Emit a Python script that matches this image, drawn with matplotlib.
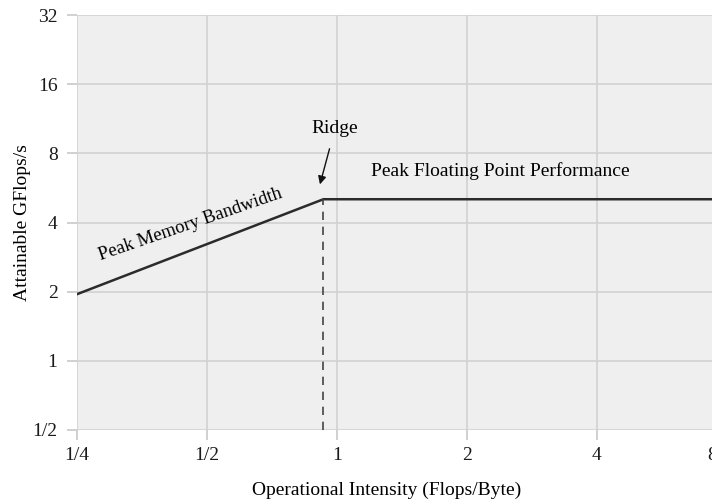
import matplotlib
matplotlib.use("Agg")
import matplotlib.pyplot as plt
import matplotlib.ticker as mticker
from matplotlib.transforms import ScaledTranslation

# roofline: bandwidth slope up to the ridge, then flat compute ceiling
intensity = [0.25, 0.93, 8.0]          # Flops/Byte
gflops    = [1.95, 5.05, 5.05]         # attainable GFlops/s
ridge_x, ridge_y = 0.93, 5.05

x_ticks = [0.25, 0.5, 1, 2, 4, 8]
x_labels = ["1/4", "1/2", "1", "2", "4", "8"]
y_ticks = [0.5, 1, 2, 4, 8, 16, 32]
y_labels = ["1/2", "1", "2", "4", "8", "16", "32"]

plt.rcParams["font.family"] = ["Liberation Serif", "DejaVu Serif"]

fig = plt.figure(figsize=(7.12, 5.03), dpi=100)
ax = fig.add_axes([77 / 712, 73 / 503, 650 / 712, 415 / 503])
ax.set_facecolor("#efefef")

ax.set_xscale("log", base=2)
ax.set_yscale("log", base=2)
ax.set_xlim(0.25, 8)
ax.set_ylim(0.5, 32)

ax.xaxis.set_major_locator(mticker.FixedLocator(x_ticks))
ax.xaxis.set_major_formatter(mticker.FixedFormatter(x_labels))
ax.yaxis.set_major_locator(mticker.FixedLocator(y_ticks))
ax.yaxis.set_major_formatter(mticker.FixedFormatter(y_labels))
ax.xaxis.set_minor_locator(mticker.NullLocator())
ax.yaxis.set_minor_locator(mticker.NullLocator())

ax.grid(True, color="#d2d2d2", lw=1.2)
ax.set_axisbelow(True)
for s in ax.spines.values():
    s.set_visible(False)
ax.tick_params(length=7, width=1.2, color="#c8c8c8", labelsize=14,
               labelcolor="#1a1a1a")
ax.tick_params(axis="x", pad=5)
ax.tick_params(axis="y", pad=7)

ax.plot(intensity, gflops, color="#2b2b2b", lw=1.8, solid_joinstyle="miter")
ax.plot([ridge_x, ridge_x], [0.5, ridge_y], color="#444444", lw=1.2,
        ls=(0, (5, 4)))

ax.annotate("Ridge", xy=(0.913, 5.86), xytext=(0.99, 10.3),
            ha="center", va="center", fontsize=14,
            arrowprops=dict(arrowstyle="-|>", color="#111111", lw=1,
                            mutation_scale=12, shrinkA=7, shrinkB=0))
ax.text(2.385, 6.67, "Peak Floating Point Performance", ha="center",
        va="center", fontsize=14)
ax.text(0.457, 3.9, "Peak Memory Bandwidth", ha="center", va="center",
        fontsize=13.5, rotation=19)

ax.set_xlabel("Operational Intensity (Flops/Byte)", fontsize=14)
ax.set_ylabel("Attainable GFlops/s", fontsize=14)
ax.xaxis.set_label_coords(0.477, -0.125)
ax.yaxis.set_label_coords(-0.071, 0.5)

# the last x label sits pulled in against the right edge
fig.canvas.draw()
last = ax.get_xticklabels()[-1]
last.set_transform(last.get_transform()
                   + ScaledTranslation(-15 / 100, 0, fig.dpi_scale_trans))

fig.savefig("out.png", dpi=100)
